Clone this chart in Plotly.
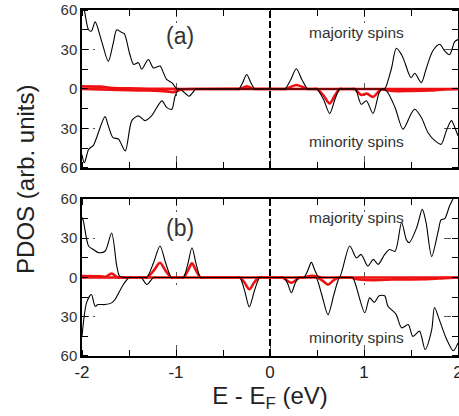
import plotly.graph_objects as go

# ---------------- data ----------------
# Panel (a): total PDOS, majority (positive) and minority (negative)
a_maj_x = [-2.0, -1.97, -1.93, -1.9, -1.86, -1.79, -1.72, -1.67, -1.63, -1.58, -1.55, -1.49, -1.45,
           -1.4, -1.365, -1.294, -1.24, -1.17, -1.134, -1.1, -1.045, -0.99, -0.96,
           -0.36, -0.33, -0.29, -0.248, -0.205, -0.16, -0.13, 0.13, 0.16, 0.22, 0.28, 0.34, 0.40, 0.43,
           1.19, 1.22, 1.29, 1.344, 1.4, 1.43, 1.5, 1.54, 1.61, 1.66, 1.73, 1.805, 1.86, 1.91, 1.965, 2.0]
a_maj_y = [70, 58, 45, 44, 51, 36, 21, 34, 45, 43, 42, 26, 18.6,
           20, 15, 22.4, 16, 17.4, 12.3, 7.3, 4.8, 0, 0,
           0, 0, 5, 11, 5, 0, 0, 0, 0, 7, 15.4, 7, 0, 0,
           0, 0, 15, 31, 26, 21, 8.6, 12, 4.8, 15, 28.7, 34, 28.7, 26, 36, 37.5]

a_min_x = [-2.0, -1.975, -1.93, -1.9, -1.88, -1.85, -1.755, -1.72, -1.67, -1.613, -1.54, -1.47,
           -1.4, -1.33, -1.26, -1.15, -1.1, -1.045, -1.01, -0.97, -0.93, -0.86, -0.79, -0.76,
           0.47, 0.5, 0.57, 0.635, 0.69, 0.74, 0.77, 0.88, 0.91, 0.97, 1.025, 1.096, 1.16, 1.19,
           1.24, 1.33, 1.415, 1.5, 1.54, 1.61, 1.68, 1.75, 1.82, 1.876, 1.93, 1.965, 2.0]
a_min_y = [-50, -56, -46, -44, -43, -38, -21, -28, -37, -38, -47, -24,
           -20.4, -24, -20.4, -9, -14, -15.4, -5.5, 0, -1.5, -5.5, 0, 0,
           0, 0, -8, -18.6, -8, 0, 0, 0, 0, -11.6, -9, -18.6, -3, 0,
           -1.5, -14, -30.5, -19, -15.4, -21.7, -33, -39, -42, -31.7, -24, -29, -35.5]

# Panel (a): projected PDOS (red)
a_red_maj_x = [-2.0, -1.8, -1.7, -1.5, -1.3, -0.9, -0.35, -0.32, -0.248, -0.17, -0.14,
               0.14, 0.17, 0.28, 0.4, 0.43, 2.0]
a_red_maj_y = [2, 1.8, 1, 0.5, 0.2, 0, 0, 0, 2, 0, 0,
               0, 0, 3, 0, 0, 0]
a_red_min_x = [-2.0, -1.7, -1.5, -1.3, -1.1, -1.03, -0.95, -0.8, 0.47, 0.5, 0.57, 0.635, 0.69, 0.74,
               0.77, 0.87, 0.9, 0.97, 1.03, 1.096, 1.18, 1.3, 1.5, 1.7, 1.85, 2.0]
a_red_min_y = [0, -0.5, -1, -1.2, -1.8, -2.5, -0.5, 0, 0, 0, -5, -11, -5, 0,
               0, 0, 0, -4.5, -3.5, -6, -0.5, -1.5, -1.5, -1.2, -0.3, 0]

# Panel (b): total PDOS
b_maj_x = [-2.0, -1.985, -1.93, -1.88, -1.826, -1.755, -1.685, -1.63, -1.6, -1.55, -1.52,
           -1.34, -1.31, -1.24, -1.17, -1.11, -1.05, -1.02, -0.95, -0.92, -0.875, -0.83, -0.785,
           -0.74, -0.71, 0.33, 0.36, 0.40, 0.44, 0.48, 0.52, 0.55,
           0.71, 0.74, 0.848, 0.92, 0.97, 1.04, 1.1, 1.15, 1.22,
           1.27, 1.33, 1.4, 1.45, 1.48, 1.56, 1.62, 1.66, 1.72, 1.79, 1.82, 1.86, 1.91, 1.96, 2.0]
b_maj_y = [46, 43, 24, 21.4, 19, 20, 34, 8.7, 1, 0, 0,
           0, 0, 11, 24, 11, 0, 0, 0, 0, 10, 22.7, 10,
           0, 0, 0, 0, 5, 11.5, 5, 0, 0,
           0, 0, 24, 15, 17.6, 8.7, 13.8, 10, 17.6,
           21.4, 20, 42, 29, 26.5, 38, 52, 42, 16, 35.5, 44, 45, 54.6, 62, 68]

b_min_x = [-2.0, -1.95, -1.9, -1.86, -1.83, -1.755, -1.685, -1.65, -1.56, -1.5, -1.47,
           -1.4, -1.37, -1.31, -1.24, -1.21, -0.35, -0.32, -0.27, -0.22, -0.165, -0.11, -0.08,
           0.12, 0.15, 0.19, 0.227, 0.265, 0.3, 0.33, 0.46, 0.49, 0.55, 0.617, 0.68, 0.74, 0.77,
           0.85, 0.88, 1.008, 1.06, 1.11, 1.16, 1.22, 1.255, 1.34, 1.4, 1.47, 1.52,
           1.59, 1.65, 1.72, 1.75, 1.8, 1.88, 1.95, 2.0]
b_min_y = [-45, -19, -13, -22, -20.7, -20.7, -19.4, -17, -5.4, 0, 0,
           0, 0, -5.4, 0, 0, 0, 0, -10, -22.5, -10, 0, 0,
           0, 0, -5, -11.7, -5, 0, 0, 0, 0, -13, -28.5, -13, 0, 0,
           0, 0, -27, -15.6, -19, -14, -14, -22, -28, -38.5, -36, -45,
           -41, -55, -40, -23, -32, -47.4, -56, -50]

# Panel (b): projected PDOS (red)
b_red_maj_x = [-2.0, -1.8, -1.75, -1.685, -1.62, -1.55, -1.34, -1.31, -1.24, -1.17, -1.11, -1.05,
               -1.02, -0.95, -0.92, -0.875, -0.83, -0.785, -0.74, -0.71, 0.32, 0.35, 0.45, 0.55,
               0.58, 2.0]
b_red_maj_y = [1, 0.8, 0.5, 3, 0, 0, 0, 0, 5, 11.2, 5, 0,
               0, 0, 0, 5, 10.8, 5, 0, 0, 0, 0, 1.2, 0,
               0, 0]
b_red_min_x = [-2.0, -0.35, -0.32, -0.27, -0.22, -0.17, -0.12, -0.09, 0.1, 0.13, 0.227, 0.32,
               0.35, 0.47, 0.5, 0.56, 0.617, 0.67, 0.73, 0.76, 0.85, 0.95, 1.1, 1.3, 1.5, 1.7,
               1.85, 2.0]
b_red_min_y = [0, 0, 0, -4, -9, -4, 0, 0, 0, 0, -4, 0,
               0, 0, 0, -2.5, -5.5, -2.5, 0, 0, 0, -1.5, -2, -1.5, -1.5, -1.2,
               -0.5, 0]

x_tickvals = [-2, -1, 0, 1, 2]
x_ticktext = ["-2", "-1", "0", "1", "2"]
y_tickvals = [-60, -30, 0, 30, 60]
y_ticktext = ["60", "30", "0", "30", "60"]

panel_labels = ["(a)", "(b)"]
spin_labels = ["majority spins", "minority spins"]

# ---------------- figure ----------------
fig = go.Figure()

RED = "#ee1111"
panels = [
    ("x", "y", a_red_maj_x, a_red_maj_y, a_red_min_x, a_red_min_y, a_maj_x, a_maj_y, a_min_x, a_min_y),
    ("x2", "y2", b_red_maj_x, b_red_maj_y, b_red_min_x, b_red_min_y, b_maj_x, b_maj_y, b_min_x, b_min_y),
]
for xa, ya, rx1, ry1, rx2, ry2, kx1, ky1, kx2, ky2 in panels:
    for xs, ys in [(rx1, ry1), (rx2, ry2)]:
        fig.add_trace(go.Scatter(x=xs, y=ys, mode="lines", xaxis=xa, yaxis=ya,
                                 line=dict(color=RED, width=2.6, shape="spline", smoothing=0.8),
                                 showlegend=False, hoverinfo="skip"))
    for xs, ys in [(kx1, ky1), (kx2, ky2)]:
        fig.add_trace(go.Scatter(x=xs, y=ys, mode="lines", xaxis=xa, yaxis=ya,
                                 line=dict(color="black", width=1.1, shape="spline", smoothing=0.8),
                                 showlegend=False, hoverinfo="skip"))

FAM = "Liberation Sans, Arial, sans-serif"
xtickfont = dict(family=FAM, size=17, color="#222")
ytickfont = dict(family=FAM, size=15, color="#333")
xcommon = dict(range=[-2, 2], tickvals=x_tickvals, ticktext=x_ticktext, ticks="",
               showline=True, linecolor="black", linewidth=1.5, mirror="allticks",
               showgrid=True, gridcolor="#555", gridwidth=1, griddash="7px,4px,2px,60px",
               zeroline=False, tickfont=xtickfont, ticklabeloverflow="allow",
               minor=dict(dtick=0.5, tick0=0, ticks="inside", ticklen=6, tickcolor="black",
                          tickwidth=1.2, showgrid=False))
ycommon = dict(range=[-60, 60], tickvals=y_tickvals, ticktext=y_ticktext, ticks="",
               showline=True, linecolor="black", linewidth=1.5, mirror="allticks",
               showgrid=True, gridcolor="#555", gridwidth=1, griddash="7px,4px,2px,349px",
               zeroline=False, tickfont=ytickfont, ticklabeloverflow="allow",
               minor=dict(tickmode="linear", dtick=15, tick0=0, ticks="inside", ticklen=6,
                          tickcolor="black", tickwidth=1.2, showgrid=False))

fig.update_layout(
    width=459, height=416,
    margin=dict(l=82, r=1, t=10, b=60, autoexpand=False),
    plot_bgcolor="white", paper_bgcolor="white",
    xaxis=dict(domain=[0, 1], anchor="y", showticklabels=False, **xcommon),
    yaxis=dict(domain=[0.5434, 1], anchor="x", **ycommon),
    xaxis2=dict(domain=[0, 1], anchor="y2", showticklabels=True, **xcommon,
                title=dict(text="E - E<sub>F</sub> (eV)", standoff=2,
                           font=dict(family=FAM, size=24, color="#222"))),
    yaxis2=dict(domain=[0, 0.454], anchor="x2", **ycommon),
)

# dashed Fermi level line
for xa, ya in [("x", "y"), ("x2", "y2")]:
    fig.add_shape(type="line", xref=xa, yref=f"{ya} domain", x0=0, x1=0, y0=0, y1=1,
                  line=dict(color="black", width=2, dash="7px,3px"))

txtfont = dict(family=FAM, color="#333")
label_pos = [("x", "y", -0.96, 40, 43, -40), ("x2", "y2", -0.96, 38, 46, -45.5)]
for (xa, ya, lx, ly, my, ny), pl in zip(label_pos, panel_labels):
    fig.add_annotation(x=lx, y=ly, xref=xa, yref=ya, text=pl, showarrow=False,
                       font=dict(size=23, **txtfont))
    fig.add_annotation(x=0.915, y=my, xref=xa, yref=ya, text=spin_labels[0], showarrow=False,
                       font=dict(size=15.5, **txtfont))
    fig.add_annotation(x=0.915, y=ny, xref=xa, yref=ya, text=spin_labels[1], showarrow=False,
                       font=dict(size=15.5, **txtfont))

fig.add_annotation(x=(26 - 82) / 376, y=0.509, xref="paper", yref="paper", text="PDOS (arb. units)",
                   textangle=-90, showarrow=False, xanchor="center", yanchor="middle",
                   font=dict(family=FAM, size=24, color="#222"))

fig.write_html("out.html", config={"displayModeBar": False},
               post_script="document.body.style.margin='0';")
